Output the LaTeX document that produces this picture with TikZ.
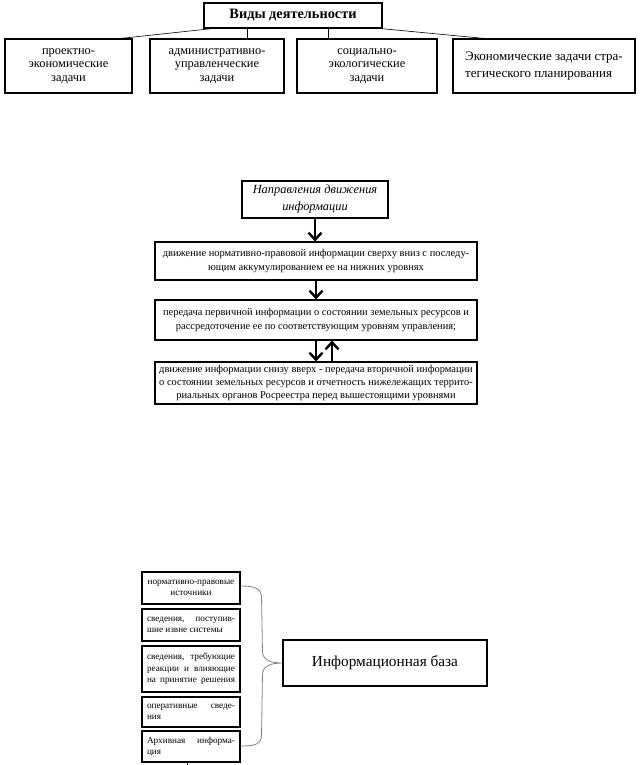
\documentclass[tikz,border=0pt]{standalone}
\usepackage{fontspec}
\setmainfont{Liberation Serif}
\usetikzlibrary{arrows.meta,calc}
\begin{document}
\begin{tikzpicture}[x=1pt,y=-1pt,
  box/.style={draw, line width=1.1pt, inner sep=0pt, align=center},
  toprow/.style={box, minimum height=54pt, font=\fontsize{12.4}{13.6}\selectfont},
  midbox/.style={box, minimum width=322pt, font=\fontsize{10.45}{14}\selectfont},
  smallbox/.style={box, minimum width=98pt, align=left, font=\fontsize{9.2}{11.5}\selectfont},
  arr/.style={line width=2.4pt, -{Straight Barb[length=7pt,width=13pt]}},
  link/.style={line width=0.6pt},
  bracepath/.style={draw=gray, line width=0.8pt}]
\useasboundingbox (0,0) rectangle (644,765);

% --- top part
\node[box, minimum width=178pt, minimum height=25pt, font=\bfseries\fontsize{14.3}{16}\selectfont] (vd) at (293,15.5) {Виды деятельности};
\node[toprow, minimum width=127pt] (a1) at (68.5,66) {проектно-\\экономические\\задачи};
\node[toprow, minimum width=134pt] (a2) at (217,66) {административно-\\управленческие\\задачи};
\node[toprow, minimum width=140pt] (a3) at (367,66) {социально-\\экологические\\задачи};
\node[toprow, minimum width=182pt, align=left, font=\fontsize{13}{17}\selectfont] (a4) at (544,66) {Экономические задачи стра-\\тегического планирования};

\coordinate (s2) at ($(vd.south west)+(44,0)$);
\coordinate (s3) at ($(vd.south west)+(125,0)$);
\draw[link] ($(vd.south west)+(9,0)$) -- ($(a1.north east)+(-12,0)$);
\draw[link] (s2) -- (s2 |- a2.north);
\draw[link] (s3) -- (s3 |- a3.north);
\draw[link] ($(vd.south east)+(-2,0)$) -- ($(a4.north west)+(32,0)$);

% --- middle part
\node[box, minimum width=146pt, minimum height=37pt, font=\itshape\fontsize{12.4}{17}\selectfont] (m1) at (315,199.5) {Направления движения\\информации};
\node[midbox, minimum height=38pt] (m2) at (316,261) {движение нормативно-правовой информации сверху вниз с последу-\\ющим аккумулированием ее на нижних уровнях};
\node[midbox, minimum height=40pt] (m3) at (316,320) {передача первичной информации о состоянии земельных ресурсов и\\рассредоточение ее по соответствующим уровням управления;};
\node[midbox, minimum height=42pt, font=\fontsize{10.45}{13}\selectfont] (m4) at (316,383) {движение информации снизу вверх - передача вторичной информации\\о состоянии земельных ресурсов и отчетность нижележащих террито-\\риальных органов Росреестра перед вышестоящими уровнями};

\coordinate (up) at ($(m4.north)+(16,0)$);
\draw[arr] (m1.south) -- (m1.south |- m2.north);
\draw[arr] (m2.south) -- (m2.south |- m3.north);
\draw[arr] (m3.south) -- (m3.south |- m4.north);
\draw[arr] (up) -- (up |- m3.south);

% --- bottom part
\node[smallbox, minimum height=32pt, align=center] (b1) at (191,588) {нормативно-правовые\\источники};
\node[smallbox, minimum height=32pt] (b2) at (191,625) {\makebox[88pt][s]{сведения, поступив-}\\шие извне системы};
\node[smallbox, minimum height=46pt] (b3) at (191,669) {\makebox[88pt][s]{сведения, требующие}\\\makebox[88pt][s]{реакции и влияющие}\\\makebox[88pt][s]{на принятие решения}};
\node[smallbox, minimum height=30pt] (b4) at (191,712) {\makebox[88pt][s]{оперативные сведе-}\\ния};
\node[smallbox, minimum height=31pt] (b5) at (191,746.5) {\makebox[88pt][s]{Архивная информа-}\\ция};

\node[box, minimum width=204pt, minimum height=46pt, font=\fontsize{15.3}{18}\selectfont] (ib) at (385,663) {Информационная база};

\coordinate (tip) at (ib.west);
\path[bracepath] ($(b1.east)+(0,-2)$) .. controls +(14,0) and +(0,-10) .. ($(b1.east)+(21,10)$)
  -- ($(tip)+(-20,-12)$) .. controls +(0,9) and +(-12,0) .. (tip)
  .. controls +(-12,0) and +(0,-9) .. ($(tip)+(-20,12)$)
  -- ($(b5.east)+(21,-12)$) .. controls +(0,10) and +(14,0) .. ($(b5.east)+(0,-0.5)$);

\coordinate (tickend) at (187,767);
\draw[link] (b5.south -| tickend) -- (tickend);
\end{tikzpicture}
\end{document}
